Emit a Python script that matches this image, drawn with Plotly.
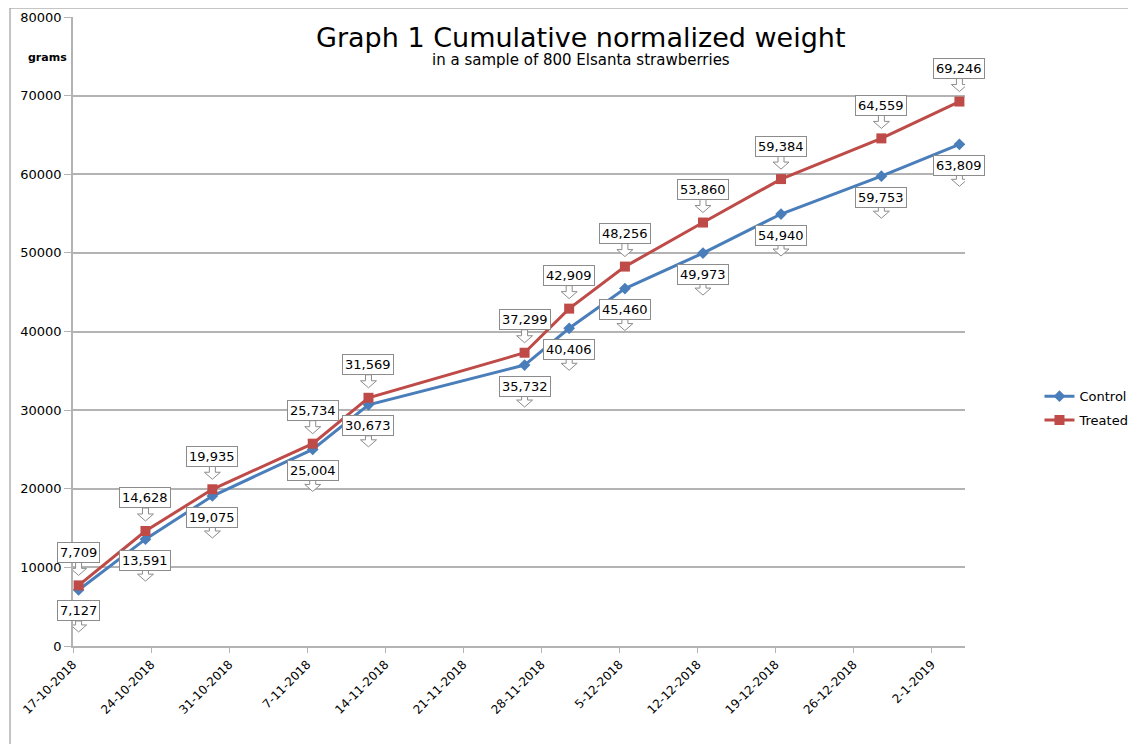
import plotly.graph_objects as go
from datetime import datetime, timedelta

dates = ["2018-10-17", "2018-10-23", "2018-10-29", "2018-11-07", "2018-11-12",
         "2018-11-26", "2018-11-30", "2018-12-05", "2018-12-12", "2018-12-19",
         "2018-12-28", "2019-01-04"]
control = [7127, 13591, 19075, 25004, 30673, 35732, 40406, 45460, 49973, 54940, 59753, 63809]
treated = [7709, 14628, 19935, 25734, 31569, 37299, 42909, 48256, 53860, 59384, 64559, 69246]

tick_dates = ["2018-10-17", "2018-10-24", "2018-10-31", "2018-11-07", "2018-11-14",
              "2018-11-21", "2018-11-28", "2018-12-05", "2018-12-12", "2018-12-19",
              "2018-12-26", "2019-01-02"]
tick_labels = ["17-10-2018", "24-10-2018", "31-10-2018", "7-11-2018", "14-11-2018",
               "21-11-2018", "28-11-2018", "5-12-2018", "12-12-2018", "19-12-2018",
               "26-12-2018", "2-1-2019"]

FONT = "DejaVu Sans"
BLUE = "#4a7ebb"
RED = "#be4b48"
GRID = "#b3b3b3"

half_day = timedelta(hours=12)
tickvals = [(datetime.fromisoformat(d) - half_day).isoformat() for d in tick_dates]
x_start = datetime.fromisoformat("2018-10-17") - half_day
x_end = datetime.fromisoformat("2019-01-05") - half_day

fig = go.Figure()
fig.add_trace(go.Scatter(x=dates, y=control, name="Control", mode="lines+markers",
                         legendgroup="c",
                         line=dict(color=BLUE, width=3),
                         marker=dict(symbol="diamond", size=9, color=BLUE)))
fig.add_trace(go.Scatter(x=dates, y=treated, name="Treated", mode="lines+markers",
                         legendgroup="t",
                         line=dict(color=RED, width=3),
                         marker=dict(symbol="square", size=10, color=RED)))

annotations = []
shapes = []

def callout(xv, yv, shift):
    annotations.append(dict(
        x=xv, y=yv, xref="x", yref="y", text=f"{yv:,}", showarrow=False,
        yshift=shift, font=dict(family=FONT, size=13, color="#000000"),
        bgcolor="white", bordercolor="#8c8c8c", borderwidth=1, borderpad=2))

def arrow(xv, yv, top, tip):
    # hollow down arrow in pixel units relative to the point
    head = tip + 7
    path = (f"M -3 {top} L 3 {top} L 3 {head} L 8 {head} L 0 {tip} "
            f"L -8 {head} L -3 {head} Z")
    shapes.append(dict(type="path", xref="x", yref="y", xsizemode="pixel",
                       ysizemode="pixel", xanchor=xv, yanchor=yv, path=path,
                       fillcolor="white", line=dict(color="#8c8c8c", width=1),
                       layer="above"))

for d, v in zip(dates, treated):
    arrow(d, v, 23, 10)
for d, v in zip(dates, control):
    arrow(d, v, -31, -42)
for d, v in zip(dates, treated):
    callout(d, v, 33)
for d, v in zip(dates, control):
    callout(d, v, -21)

# title, subtitle, unit label
annotations.append(dict(x=0.57, y=1.0, xref="paper", yref="paper", yanchor="top",
                        yshift=-3, text="Graph 1 Cumulative normalized weight",
                        showarrow=False, font=dict(family=FONT, size=27, color="#000")))
annotations.append(dict(x=0.57, y=1.0, xref="paper", yref="paper", yanchor="top",
                        yshift=-32, text="in a sample of 800 Elsanta strawberries",
                        showarrow=False, font=dict(family=FONT, size=15, color="#000")))
annotations.append(dict(x=0, y=1.0, xref="paper", yref="paper", xanchor="right",
                        yanchor="middle", xshift=-4, yshift=-40, text="<b>grams</b>",
                        showarrow=False, font=dict(family=FONT, size=11, color="#000")))

# outer chart-area frame
shapes.append(dict(type="rect", xref="paper", yref="paper", x0=-0.0706, x1=1.3,
                   y0=-0.3, y1=1.0143, line=dict(color="#8c8c8c", width=1),
                   layer="below"))

fig.update_layout(
    width=1128, height=736,
    margin=dict(l=65, r=171, t=9, b=98, autoexpand=False),
    paper_bgcolor="white", plot_bgcolor="white",
    font=dict(family=FONT, size=12, color="#000"),
    showlegend=True,
    legend=dict(x=1.19, y=0.378, xanchor="right", yanchor="middle",
                font=dict(family=FONT, size=13), tracegroupgap=4,
                bgcolor="rgba(0,0,0,0)"),
    annotations=annotations, shapes=shapes,
)
fig.update_xaxes(type="date", range=[x_start.isoformat(), x_end.isoformat()],
                 tickmode="array", tickvals=tickvals, ticktext=tick_labels,
                 tickangle=-45, showgrid=False, showline=True, linecolor=GRID,
                 linewidth=1.5, ticks="outside", ticklen=5, tickcolor=GRID,
                 tickfont=dict(family=FONT, size=12), zeroline=False,
                 automargin=False)
fig.update_yaxes(range=[0, 80000], dtick=10000, tickformat="d", showgrid=True,
                 gridcolor=GRID, gridwidth=1.5, showline=True, linecolor=GRID,
                 linewidth=1.5, ticks="outside", ticklen=7, tickcolor=GRID,
                 tickfont=dict(family=FONT, size=13), zeroline=False,
                 automargin=False)

fig.write_html("out.html")
